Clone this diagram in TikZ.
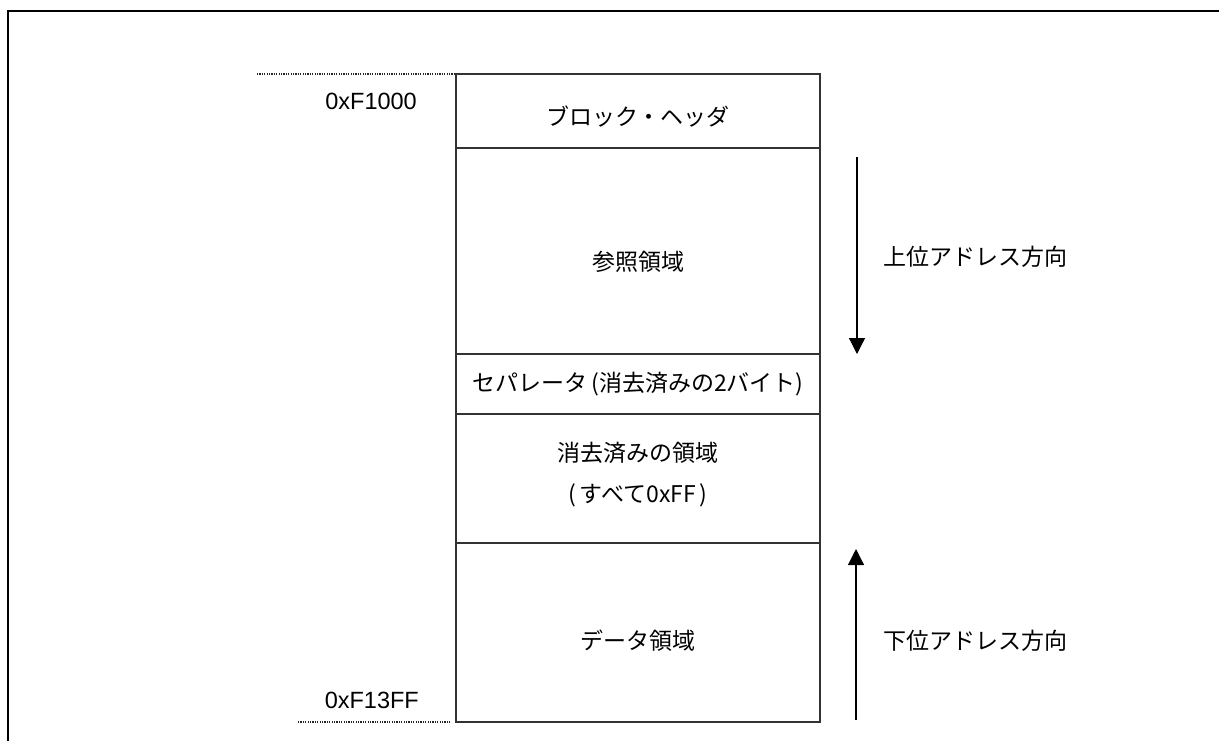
\documentclass[tikz,border=0pt]{standalone}
\usepackage{fontspec}
\setmainfont{Liberation Sans}
\newfontfamily\jp{Noto Sans CJK JP}
\usetikzlibrary{arrows.meta}
\tikzset{
  cell/.style={draw=black!80, line width=1.3pt, minimum width=364pt, inner sep=0pt, outer sep=0pt},
  jtxt/.style={font=\jp\fontsize{23}{28}\selectfont, inner sep=0pt, anchor=center},
  atxt/.style={font=\fontsize{23.5}{28}\selectfont, inner sep=0pt},
  dotline/.style={dash pattern=on 1.2pt off 1.2pt, draw=black!85, line width=1.1pt},
  dirarrow/.style={line width=1.2pt, -{Triangle[width=16pt,length=16pt]}},
  frameline/.style={line width=2pt, draw=black}
}
\begin{document}
\begin{tikzpicture}[x=1pt,y=-1pt]
\useasboundingbox (0,0) rectangle (1219,740);
% frame (top and left)
\draw[frameline] (1219,11) -- (8,11) -- (8,741);
% memory column
\node[cell, minimum height=74pt]  (hdr)  at (638,111) {};
\node[cell, minimum height=206pt] (ref)  at (638,251) {};
\node[cell, minimum height=60pt]  (sep)  at (638,384) {};
\node[cell, minimum height=129pt] (ers)  at (638,478.5) {};
\node[cell, minimum height=179pt] (dat)  at (638,632.5) {};
% texts
\node[jtxt] (hdrt) at (638,117) {ブロック・ヘッダ};
\node[jtxt] (reft) at (638,262) {参照領域};
\node[jtxt] (sept) at (638,384) {セパレータ\,(消去済みの2バイト)};
\node[jtxt] (erst1) at (638,453) {消去済みの領域};
\node[jtxt] (erst2) at (638,495) {(\,すべて0xFF\,)};
\node[jtxt] (datt) at (638,641) {データ領域};
% address labels
\node[atxt, anchor=east] (a0) at (417,101) {0xF1000};
\node[atxt, anchor=east] (a1) at (419,700) {0xF13FF};
% dotted guide lines
\coordinate (d0) at (257,74);
\coordinate (d1) at (298,722);
\coordinate (d1e) at (450,722);
\draw[dotline] (d0) -- (hdr.north west);
\draw[dotline] (d1) -- (d1e);
% direction arrows
\coordinate (up0) at (857,157);
\coordinate (up1) at (857,354);
\coordinate (lo0) at (856,720);
\coordinate (lo1) at (856,549);
\draw[dirarrow] (up0) -- (up1);
\draw[dirarrow] (lo0) -- (lo1);
\node[jtxt, anchor=west] (upt) at (883,257) {上位アドレス方向};
\node[jtxt, anchor=west] (lot) at (883,641) {下位アドレス方向};
\end{tikzpicture}
\end{document}
